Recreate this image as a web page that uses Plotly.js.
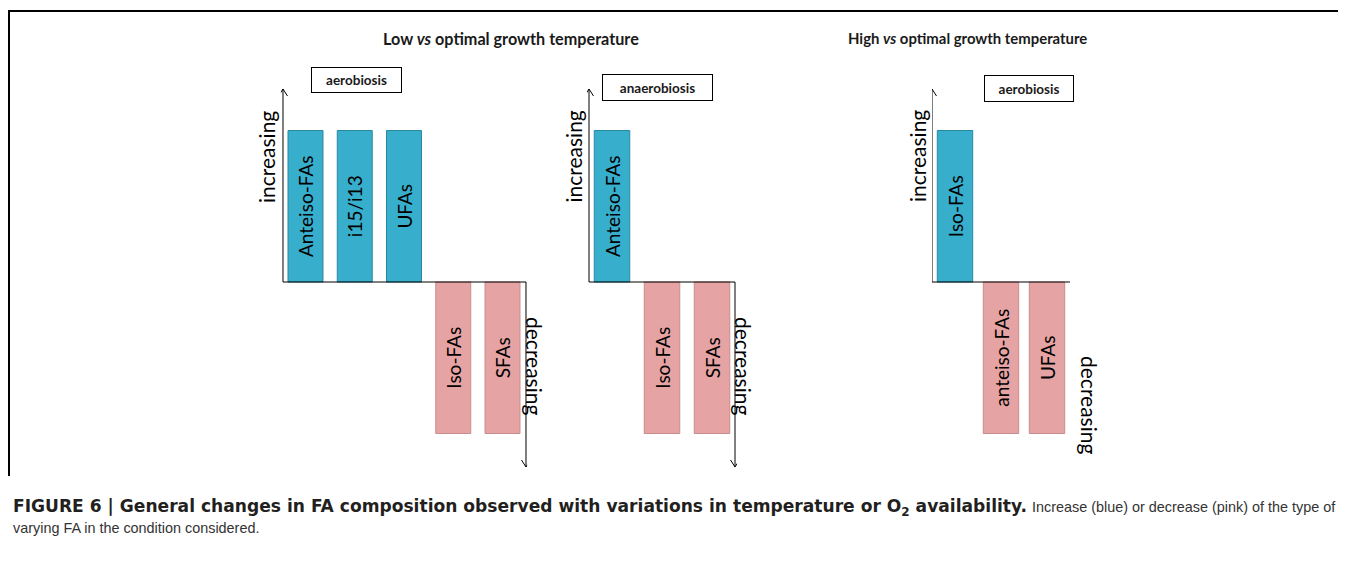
<!DOCTYPE html>
<html>
<head>
<meta charset="utf-8">
<script src="https://cdn.plot.ly/plotly-3.0.1.min.js"></script>
<style>
html,body{margin:0;padding:0;background:#fff;}
#chart{width:1346px;height:567px;}
</style>
</head>
<body>
<div id="chart"></div>
<script>
// ---- data ----
const panelTitles = ['Low <i>vs</i> optimal growth temperature', 'High <i>vs</i> optimal growth temperature'];
const conditions = ['aerobiosis', 'anaerobiosis', 'aerobiosis'];
const trendLabels = ['increasing', 'decreasing'];
const p1Cats = ['Anteiso-FAs', 'i15/i13', 'UFAs', 'Iso-FAs', 'SFAs'];
const p1Change = [1, 1, 1, -1, -1];
const p2Cats = ['Anteiso-FAs', 'Iso-FAs', 'SFAs'];
const p2Change = [1, -1, -1];
const p3Cats = ['Iso-FAs', 'anteiso-FAs', 'UFAs'];
const p3Change = [1, -1, -1];
const captionBold = 'FIGURE 6 | General changes in FA composition observed with variations in temperature or O<sub>2</sub> availability.';
const captionText1 = 'Increase (blue) or decrease (pink) of the type of';
const captionText2 = 'varying FA in the condition considered.';

// ---- styles ----
const W = 1346, H = 567;
const FONT = 'Lato, "Open Sans", sans-serif';
const BLUE = '#38aecd', BLUE_LINE = '#2a88a2';
const PINK = '#e6a3a3', PINK_LINE = '#c88c8c';
const px = v => v / W;
const py = v => 1 - v / H;

function barTrace(cats, vals, xa, width) {
  return {
    type: 'bar', x: cats, y: vals, xaxis: xa, yaxis: 'y',
    width: width,
    text: cats, textposition: 'inside', insidetextanchor: 'middle',
    textangle: -90, constraintext: 'none', cliponaxis: false,
    textfont: {family: FONT, size: 19, color: '#000'},
    marker: {
      color: vals.map(v => v > 0 ? BLUE : PINK),
      line: {color: vals.map(v => v > 0 ? BLUE_LINE : PINK_LINE), width: 1}
    },
    hoverinfo: 'skip', showlegend: false
  };
}

const traces = [
  barTrace(p1Cats, p1Change, 'x', 0.71),
  barTrace(p2Cats, p2Change, 'x2', 0.71),
  barTrace(p3Cats, p3Change, 'x3', 0.77)
];

const axOff = {visible: false, fixedrange: true, type: 'category'};

// axis frame per panel: [xref, leftX, rightX]
const frames = [['x', -0.457, 4.477], ['x2', -0.46, 2.46], ['x3', -0.5, 2.739]];
const TOP = 1.274, BOT = -1.221;
const LINE = {color: '#000', width: 1};
const shapes = [];
frames.forEach(([xr, l, r]) => {
  shapes.push({type: 'line', xref: xr, yref: 'y', x0: l, x1: l, y0: 0, y1: TOP, line: LINE});
  shapes.push({type: 'line', xref: xr, yref: 'y', x0: l, x1: r, y0: 0, y1: 0, line: LINE});
  shapes.push({type: 'line', xref: xr, yref: 'y', x0: r, x1: r, y0: 0, y1: BOT, line: LINE});
  // open arrow heads
  [[l, TOP, -1], [r, BOT, 1]].forEach(([ax, ay, d]) => {
    [-4.5, 4.5].forEach(dx => {
      shapes.push({type: 'line', xref: xr, yref: 'y', xsizemode: 'pixel', ysizemode: 'pixel',
        xanchor: ax, yanchor: ay, x0: 0, y0: 0, x1: dx, y1: 7 * d, line: LINE});
    });
  });
});
// outer frame
shapes.push({type: 'line', xref: 'paper', yref: 'paper', x0: px(8), x1: px(1338), y0: py(11), y1: py(11), line: {color: '#000', width: 2}});
shapes.push({type: 'line', xref: 'paper', yref: 'paper', x0: px(9), x1: px(9), y0: py(10), y1: py(476), line: {color: '#000', width: 2}});

const annotations = [];
// panel titles
[[panelTitles[0], 511, 16.2], [panelTitles[1], 967.5, 14.9]].forEach(([t, x, s]) => {
  annotations.push({text: '<b>' + t + '</b>', xref: 'paper', yref: 'paper', x: px(x), y: py(38),
    xanchor: 'center', yanchor: 'middle', showarrow: false, font: {family: FONT, size: s, color: '#1a1a1a'}});
});
// condition boxes [cx, cy, w, h]
[[356.5, 80, 91, 26], [657.5, 87.5, 111, 27], [1029, 88.5, 90, 27]].forEach(([cx, cy, w, h], i) => {
  annotations.push({text: '<b>' + conditions[i] + '</b>', xref: 'paper', yref: 'paper', x: px(cx), y: py(cy),
    xanchor: 'center', yanchor: 'middle', showarrow: false, width: w - 2, height: h - 2,
    bordercolor: '#000', borderwidth: 1, borderpad: 0, bgcolor: '#fff',
    font: {family: FONT, size: 13.5, color: '#1a1a1a'}});
});
// increasing / decreasing labels [cx, cy, kind]
[[267, 157, 0], [535, 366, 1], [573.5, 157, 0], [744, 366, 1], [917, 156, 0], [1090, 405, 1]].forEach(([cx, cy, k]) => {
  annotations.push({text: trendLabels[k], xref: 'paper', yref: 'paper', x: px(cx), y: py(cy),
    xanchor: 'center', yanchor: 'middle', showarrow: false, textangle: k === 0 ? -90 : 90,
    font: {family: FONT, size: 21, color: '#000'}});
});
// caption
annotations.push({
  text: '<b>' + captionBold + '</b>',
  xref: 'paper', yref: 'paper', x: px(11), y: py(507), xanchor: 'left', yanchor: 'middle',
  align: 'left', showarrow: false,
  font: {family: '"DejaVu Sans", sans-serif', size: 17.1, color: '#231f20'}
});
annotations.push({
  text: captionText1,
  xref: 'paper', yref: 'paper', x: px(1338), y: py(507), xanchor: 'right', yanchor: 'middle',
  align: 'right', showarrow: false,
  font: {family: '"Liberation Sans", Arial, sans-serif', size: 14.4, color: '#333'}
});
annotations.push({
  text: captionText2,
  xref: 'paper', yref: 'paper', x: px(11), y: py(528), xanchor: 'left', yanchor: 'middle',
  align: 'left', showarrow: false,
  font: {family: '"Liberation Sans", Arial, sans-serif', size: 14.4, color: '#333'}
});

const layout = {
  width: W, height: H,
  margin: {l: 0, r: 0, t: 0, b: 0, pad: 0},
  paper_bgcolor: '#fff', plot_bgcolor: 'rgba(0,0,0,0)',
  showlegend: false,
  xaxis: Object.assign({domain: [280.875 / W, 527.125 / W], range: [-0.5, 4.5], anchor: 'y'}, axOff),
  xaxis2: Object.assign({domain: [587 / W, 737 / W], range: [-0.5, 2.5], anchor: 'y'}, axOff),
  xaxis3: Object.assign({domain: [932 / W, 1070 / W], range: [-0.5, 2.5], anchor: 'y'}, axOff),
  yaxis: {visible: false, fixedrange: true, range: [-1.3, 1.3], domain: [1 - 478.95 / H, 1 - 85.05 / H]},
  bargap: 0.29,
  shapes: shapes,
  annotations: annotations
};

Plotly.newPlot('chart', traces, layout, {displayModeBar: false, staticPlot: true});
</script>
</body>
</html>
